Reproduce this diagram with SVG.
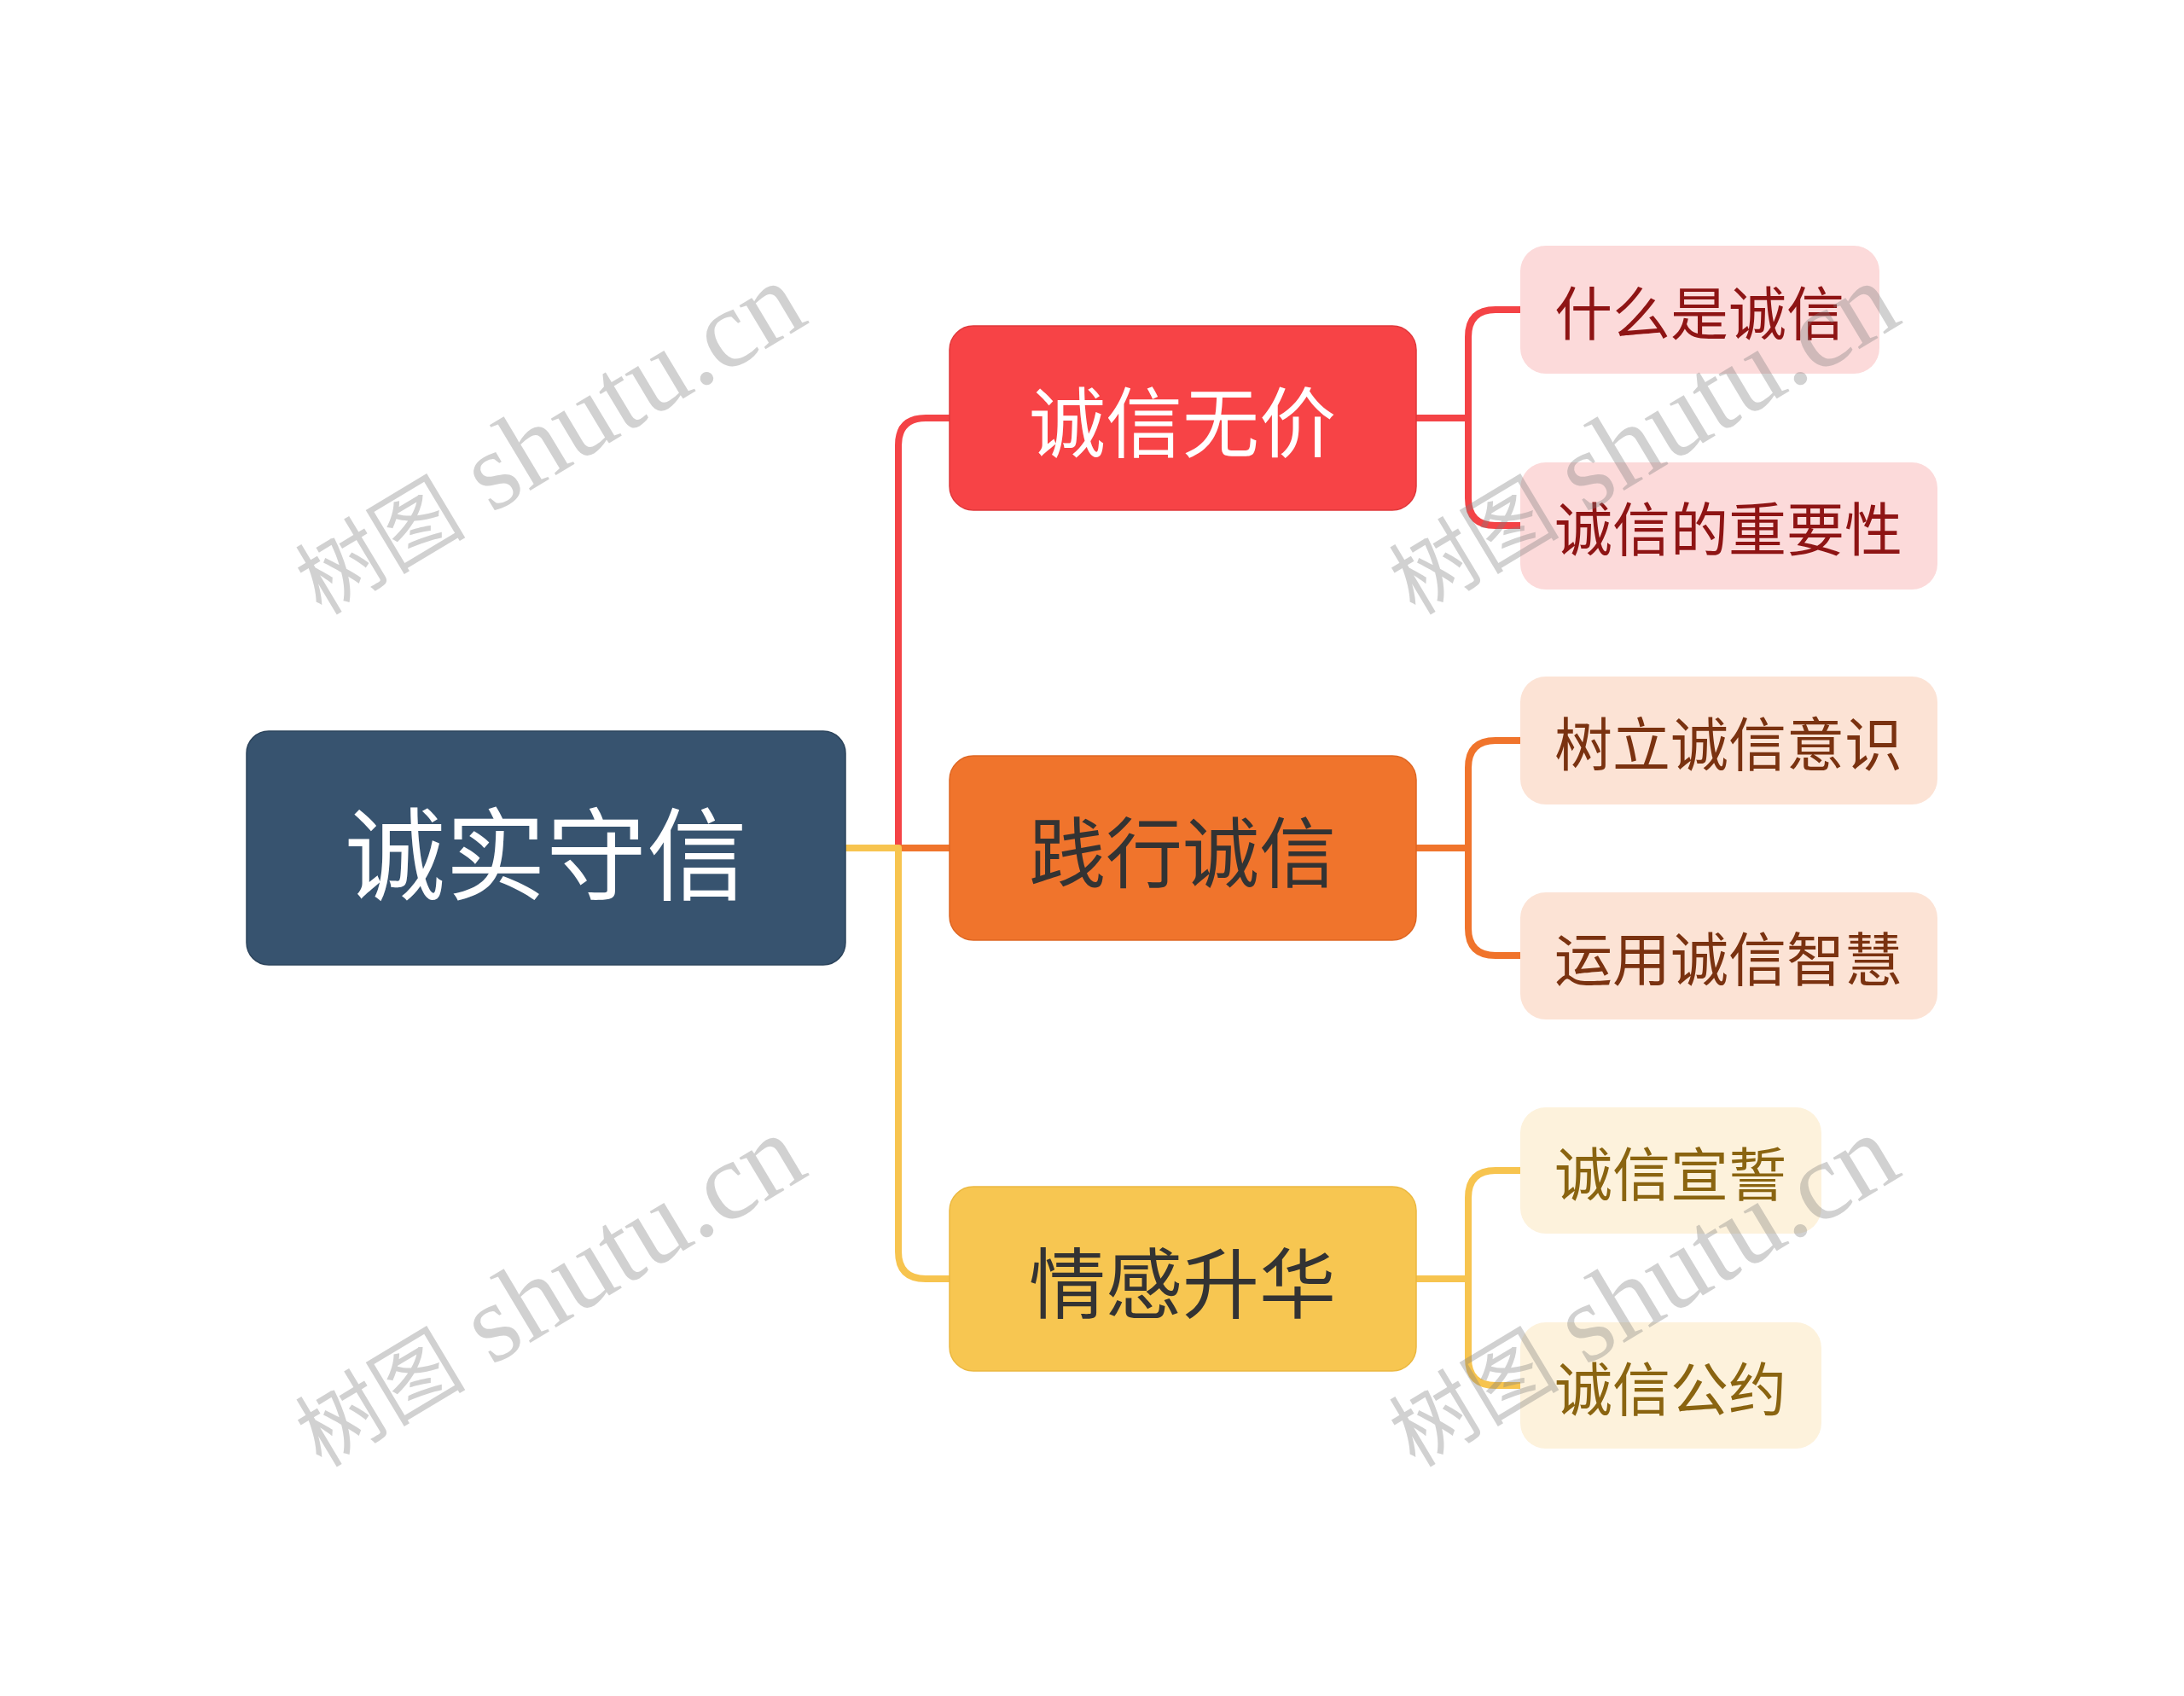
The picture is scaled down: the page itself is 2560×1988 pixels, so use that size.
<svg xmlns="http://www.w3.org/2000/svg" width="2560" height="1988" viewBox="0 0 2560 1988">
<style>
.t{font-family:"Noto Sans CJK SC","Noto Sans",sans-serif;text-anchor:middle;dominant-baseline:central}
.c{fill:none;stroke-width:8;stroke-linecap:butt;stroke-linejoin:round}
.wm{font-family:"Liberation Serif","Noto Sans CJK SC",serif;font-size:130px;fill:#808080;fill-opacity:0.36;text-anchor:middle}
.wc{font-size:100px}
</style>
<rect width="2560" height="1988" fill="#ffffff"/>
<g id="connectors">
<path class="c" stroke="#F44346" d="M990,994 H1053 V522 Q1053,490 1085,490 H1113"/>
<path class="c" stroke="#F0742C" d="M990,994 H1113"/>
<path class="c" stroke="#F7C44F" d="M990,994 H1053 V1467 Q1053,1499 1085,1499 H1113"/>
<path class="c" stroke="#F44346" d="M1660,490 H1721 M1782,363 H1753 Q1721,363 1721,395 V584 Q1721,616 1753,616 H1782"/>
<path class="c" stroke="#F0742C" d="M1660,994 H1721 M1782,868 H1753 Q1721,868 1721,900 V1088 Q1721,1120 1753,1120 H1782"/>
<path class="c" stroke="#F7C44F" d="M1660,1499 H1721 M1782,1372 H1753 Q1721,1372 1721,1404 V1592 Q1721,1624 1753,1624 H1782"/>
</g>
<g id="root">
<rect x="289" y="857" width="702" height="274" rx="26" fill="#37536F" stroke="#2c445c" stroke-width="1.5"/>
<text class="t" x="640" y="994" font-size="118" fill="#ffffff">诚实守信</text>
</g>
<g id="b1">
<rect x="1113" y="382" width="547" height="216" rx="28" fill="#F74346" stroke="#e0383b" stroke-width="1.5"/>
<text class="t" x="1386" y="490" font-size="90" fill="#ffffff">诚信无价</text>
</g>
<g id="b2">
<rect x="1113" y="886" width="547" height="216" rx="28" fill="#F0742C" stroke="#de6622" stroke-width="1.5"/>
<text class="t" x="1386" y="994" font-size="90" fill="#333333">践行诚信</text>
</g>
<g id="b3">
<rect x="1113" y="1391" width="547" height="216" rx="28" fill="#F7C651" stroke="#ebb840" stroke-width="1.5"/>
<text class="t" x="1386" y="1499" font-size="90" fill="#333333">情感升华</text>
</g>
<g id="l1">
<rect x="1782" y="288" width="421" height="150" rx="30" fill="#FCDADA"/>
<text class="t" x="1992" y="363" font-size="68" fill="#8E1414">什么是诚信</text>
</g>
<g id="l2">
<rect x="1782" y="542" width="489" height="149" rx="30" fill="#FCDADA"/>
<text class="t" x="2026" y="616" font-size="68" fill="#8E1414">诚信的重要性</text>
</g>
<g id="l3">
<rect x="1782" y="793" width="489" height="150" rx="30" fill="#FCE3D5"/>
<text class="t" x="2026" y="868" font-size="68" fill="#7A3210">树立诚信意识</text>
</g>
<g id="l4">
<rect x="1782" y="1046" width="489" height="149" rx="30" fill="#FCE3D5"/>
<text class="t" x="2026" y="1120" font-size="68" fill="#7A3210">运用诚信智慧</text>
</g>
<g id="l5">
<rect x="1782" y="1298" width="353" height="148" rx="30" fill="#FDF2DC"/>
<text class="t" x="1958" y="1372" font-size="68" fill="#8A6410">诚信宣誓</text>
</g>
<g id="l6">
<rect x="1782" y="1550" width="353" height="148" rx="30" fill="#FDF2DC"/>
<text class="t" x="1958" y="1624" font-size="68" fill="#8A6410">诚信公约</text>
</g>
<g id="watermarks">
<text class="wm" transform="translate(644,517) rotate(-31)" x="0" y="38"><tspan class="wc">树图</tspan> shutu.cn</text>
<text class="wm" transform="translate(1926,517) rotate(-31)" x="0" y="38"><tspan class="wc">树图</tspan> shutu.cn</text>
<text class="wm" transform="translate(644,1516) rotate(-31)" x="0" y="38"><tspan class="wc">树图</tspan> shutu.cn</text>
<text class="wm" transform="translate(1926,1516) rotate(-31)" x="0" y="38"><tspan class="wc">树图</tspan> shutu.cn</text>
</g>
</svg>
